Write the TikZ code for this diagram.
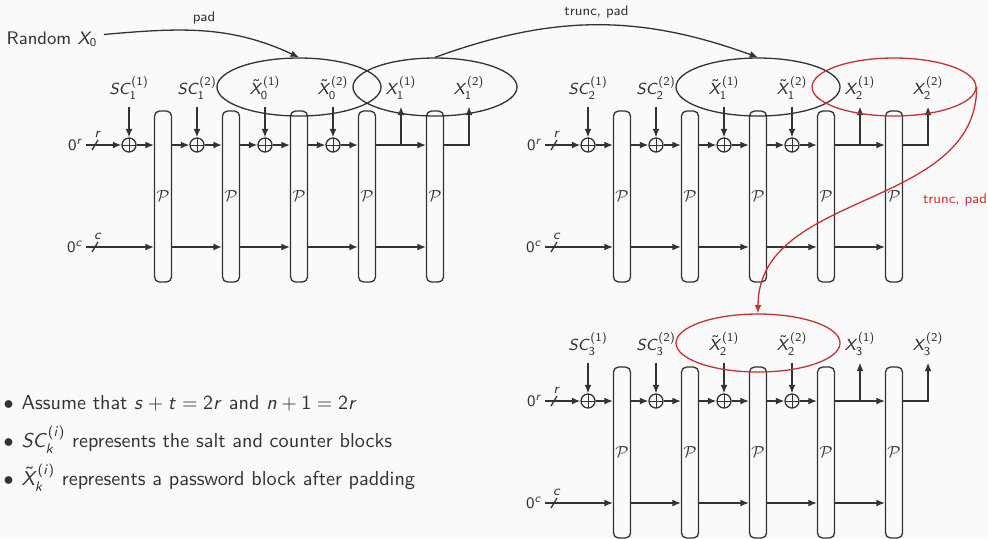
\documentclass[tikz,border=0pt]{standalone}
\usepackage{amsmath,amssymb}
\usepackage{tikz}
\usetikzlibrary{shapes,arrows.meta,positioning}
% sans serif math as on the slide
\DeclareSymbolFont{operators}{OT1}{cmss}{m}{n}
\DeclareSymbolFont{letters}{OT1}{cmss}{m}{sl}
\definecolor{bg}{HTML}{FAFAFA}
\definecolor{ink}{HTML}{333333}
\definecolor{mred}{HTML}{C83232}

\begin{document}
\begin{tikzpicture}[x=0.5pt, y=-0.5pt, color=ink, line width=0.65pt,
        font=\sffamily\footnotesize,
        perm/.style={rectangle, draw, rounded corners=2.5pt, minimum width=8.5pt, minimum height=85.5pt, inner sep=0pt},
        xor/.style={circle, draw, minimum size=7pt, inner sep=0pt,
            path picture={\draw[line width=0.5pt] (path picture bounding box.north) -- (path picture bounding box.south)
                (path picture bounding box.west) -- (path picture bounding box.east);}},
        ell/.style={ellipse, draw, minimum width=82pt, minimum height=29pt, inner sep=0pt},
        flow/.style={-{Latex[length=4.2pt, width=3.4pt]}},
        lbl/.style={font=\sffamily\scriptsize},
        bit/.style={font=\sffamily\scriptsize, inner sep=1pt},
        item/.style={font=\sffamily\fontsize{10.1}{12.2}\selectfont, inner sep=1pt, anchor=base west}]

    \useasboundingbox (0,0) rectangle (988,538);
    \fill[bg] (0,0) rectangle (988,538);

    % Three sponge rounds
    \foreach \ox/\oy [count=\b, evaluate=\b as \pb using int(\b-1)] in {0/0, 459/0, 459/256} {
    \begin{scope}[shift={(\ox,\oy)}]
        \foreach \j in {1,...,5}
            \node[perm] (p\b\j) at ({163+68*(\j-1)},196.5) {$\mathcal{P}$};
        \foreach \j/\xx in {1/129, 2/197, 3/265, 4/333}
            \node[xor] (x\b\j) at (\xx,145) {};

        \node (in\b1) at (129,88) {$SC_{\b}^{(1)}$};
        \node (in\b2) at (197,88) {$SC_{\b}^{(2)}$};
        \node (in\b3) at (265,88) {$\tilde{X}_{\pb}^{(1)}$};
        \node (in\b4) at (333,88) {$\tilde{X}_{\pb}^{(2)}$};
        \node (out\b1) at (401,88) {$X_{\b}^{(1)}$};
        \node (out\b2) at (469,88) {$X_{\b}^{(2)}$};

        \node[anchor=east, inner sep=1pt] (zr\b) at (86,145) {$0^r$};
        \node[anchor=east, inner sep=1pt] (zc\b) at (86,247) {$0^c$};

        % rate and capacity lines
        \draw[flow] (zr\b) -- (x\b1);
        \draw[flow] (zc\b) -- (p\b1.west |- zc\b);
        \draw (92,150) -- (98,140) node[above, bit] (rb\b) {$r$};
        \draw (92,252) -- (98,242) node[above, bit] (cb\b) {$c$};
        \foreach \j in {1,...,4} {
            \draw[flow] (in\b\j) -- (x\b\j);
            \draw[flow] (x\b\j) -- (p\b\j.west |- x\b\j);
        }
        \foreach \j [evaluate=\j as \k using int(\j+1)] in {1,2,3}
            \draw[flow] (p\b\j.east |- x\b\j) -- (x\b\k);
        \foreach \j [evaluate=\j as \k using int(\j+1)] in {1,...,4}
            \draw[flow] (p\b\j.east |- zc\b) -- (p\b\k.west |- zc\b);

        % squeeze
        \draw[flow] (p\b4.east |- x\b4) -- (p\b5.west |- x\b4);
        \draw[flow] (out\b1 |- x\b4) -- (out\b1);
        \draw[flow] (p\b5.east |- x\b4) -| (out\b2);
    \end{scope}
    }

    % Groupings
    \node[ell] (pw1) at (299,87) {};
    \node[ell] (ox1) at (435,87) {};
    \node[ell] (pw2) at (758,87) {};
    \node[ell, draw=mred] (ox2) at (894,87) {};
    \node[ell, draw=mred] (pw3) at (758,343) {};

    % Chaining
    \node[anchor=west, font=\sffamily\fontsize{9.1}{11}\selectfont, inner sep=3pt] (rand) at (0,39) {Random $X_0$};
    \draw[flow] (rand) to[out=5, in=155] node[above, lbl] (padlbl) {pad} (pw1.north);
    \draw[flow] (ox1.north) to[out=20, in=160] node[above, lbl] (tplbl) {trunc, pad} (pw2.north);
    \draw[flow, mred] (ox2.east) to[out=-90, in=90] (pw3.north);
    \node[lbl, mred] (tplbl2) at (955,200) {trunc, pad};

    % Notes
    \node[item] (note1) at (1,409) {$\bullet$\hspace{4pt}Assume that $s+t=2r$ and $n+1=2r$};
    \node[item] (note2) at (1,447) {$\bullet$\hspace{4pt}$SC_k^{(i)}$ represents the salt and counter blocks};
    \node[item] (note3) at (1,485) {$\bullet$\hspace{4pt}$\tilde{X}_k^{(i)}$ represents a password block after padding};

\end{tikzpicture}
\end{document}
